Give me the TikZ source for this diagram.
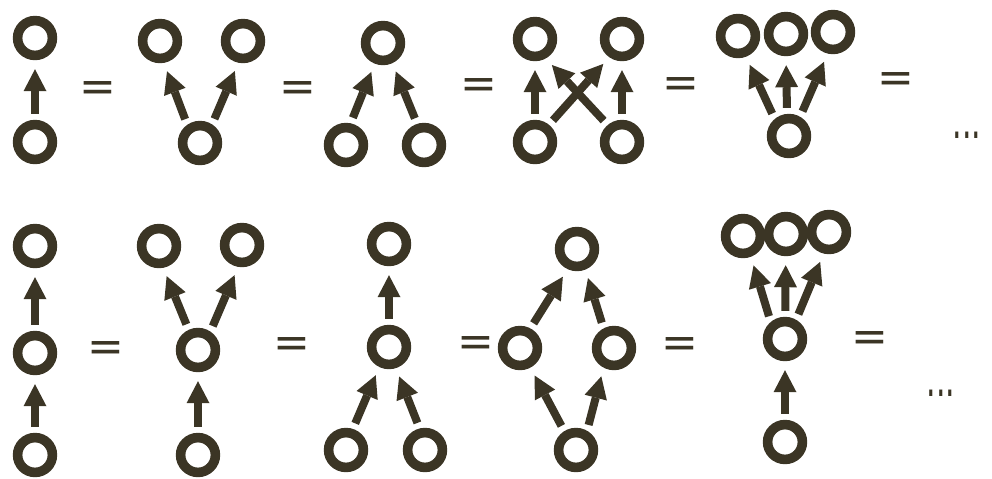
\documentclass[tikz,border=0pt]{standalone}
\usepackage{fontspec}
\usepackage{graphicx}
\newfontfamily\eqfont{DejaVu Sans}
\usetikzlibrary{arrows.meta}
\definecolor{ink}{HTML}{3B3525}
\begin{document}
\begin{tikzpicture}[x=0.5pt,y=-0.5pt,
  ring/.style={circle,draw=ink,line width=4.8pt,minimum size=17.4pt,inner sep=0pt},
  arr/.style={draw=ink,line width=4pt,-{Triangle[width=11.5pt,length=11pt,line width=0pt]},shorten <=3pt,shorten >=4.5pt},
  eqs/.style={text=ink,font=\eqfont\fontsize{22}{22}\selectfont,inner sep=0pt},
  dotsty/.style={text=ink,font=\eqfont\fontsize{20}{20}\selectfont,inner sep=0pt}]
\useasboundingbox (0,0) rectangle (992,478);
% ---------- top row ----------
\node[ring] (A1t) at (35,38) {};
\node[ring] (A1b) at (35,142) {};
\draw[arr] (A1b) -- (A1t);
\node[eqs] (eA1) at (98,92) {=};
\node[ring] (A2l) at (160,41) {};
\node[ring] (A2r) at (243,41) {};
\node[ring] (A2b) at (200,143) {};
\draw[arr] (A2b.125) -- (A2l.-80);
\draw[arr] (A2b.57) -- (A2r.-102);
\node[eqs] (eA2) at (298,92) {=};
\node[ring] (A3t) at (383,43) {};
\node[ring] (A3l) at (346,145) {};
\node[ring] (A3r) at (424,145) {};
\draw[arr] (A3l.78) -- (A3t.-112);
\draw[arr] (A3r.108) -- (A3t.-65);
\node[eqs] (eA3) at (479,89) {=};
\node[ring] (A4tl) at (535,39) {};
\node[ring] (A4tr) at (622,39) {};
\node[ring] (A4bl) at (535,142) {};
\node[ring] (A4br) at (622,142) {};
\draw[arr] (A4bl) -- (A4tl);
\draw[arr] (A4br) -- (A4tr);
\draw[arr] (A4bl.51) -- (A4tr.-125);
\draw[arr] (A4br.130) -- (A4tl.-61);
\node[eqs] (eA4) at (681,88) {=};
\node[ring] (A5l) at (738,36) {};
\node[ring] (A5m) at (786,34) {};
\node[ring] (A5r) at (833,32) {};
\node[ring] (A5b) at (789,136) {};
\draw[arr] (A5b.130) -- (A5l.-69);
\draw[arr] (A5b.95) -- (A5m.-90);
\draw[arr] (A5b.60) -- (A5r.-104);
\node[eqs] (eA5) at (896,83) {=};
\node[dotsty] (dA) at (967,135) {\scalebox{0.75}[1.3]{...}};
% ---------- bottom row ----------
\node[ring] (B1t) at (35,246) {};
\node[ring] (B1m) at (35,353) {};
\node[ring] (B1b) at (35,455) {};
\draw[arr] (B1m) -- (B1t);
\draw[arr] (B1b) -- (B1m);
\node[eqs] (eB1) at (106,352) {=};
\node[ring] (B2l) at (159,246) {};
\node[ring] (B2r) at (242,245) {};
\node[ring] (B2m) at (198,350) {};
\node[ring] (B2b) at (198,455) {};
\draw[arr] (B2m.115) -- (B2l.-79);
\draw[arr] (B2m.56) -- (B2r.-100);
\draw[arr] (B2b) -- (B2m);
\node[eqs] (eB2) at (292,348) {=};
\node[ring] (B3t) at (389,244) {};
\node[ring] (B3m) at (389,347) {};
\node[ring] (B3l) at (346,450) {};
\node[ring] (B3r) at (425,450) {};
\draw[arr] (B3m) -- (B3t);
\draw[arr] (B3l.72) -- (B3m.-116);
\draw[arr] (B3r.104) -- (B3m.-72);
\node[eqs] (eB3) at (476,347) {=};
\node[ring] (B4t) at (577,249) {};
\node[ring] (B4l) at (520,348) {};
\node[ring] (B4r) at (614,348) {};
\node[ring] (B4b) at (576,450) {};
\draw[arr] (B4l.62) -- (B4t.-115);
\draw[arr] (B4r.118) -- (B4t.-68);
\draw[arr] (B4b.122) -- (B4l.-62);
\draw[arr] (B4b.60) -- (B4r.-118);
\node[eqs] (eB4) at (680,348) {=};
\node[ring] (B5l) at (743,236) {};
\node[ring] (B5m) at (786,234) {};
\node[ring] (B5r) at (829,232) {};
\node[ring] (B5c) at (785,339) {};
\node[ring] (B5b) at (785,442) {};
\draw[arr] (B5c.130) -- (B5l.-69);
\draw[arr] (B5c) -- (B5m);
\draw[arr] (B5c.60) -- (B5r.-104);
\draw[arr] (B5b) -- (B5c);
\node[eqs] (eB5) at (870,342) {=};
\node[dotsty] (dB) at (941,393) {\scalebox{0.75}[1.3]{...}};
\end{tikzpicture}
\end{document}
